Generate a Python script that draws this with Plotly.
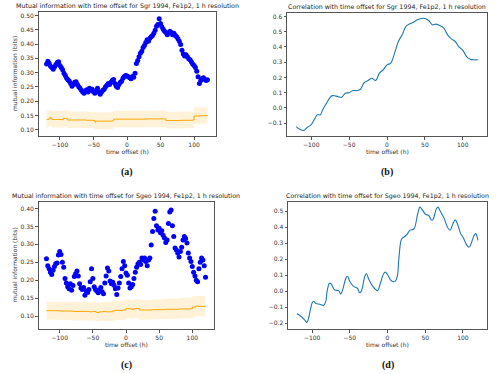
import plotly.graph_objects as go

# hourly offsets (every 2 h) for the mutual information scatter
t_mi = list(range(-120, 121, 2))

mi_sgr = [0.330, 0.340, 0.332, 0.322, 0.318, 0.312, 0.320, 0.328, 0.335, 0.338,
          0.325, 0.318, 0.310, 0.298, 0.290, 0.280, 0.275, 0.270, 0.262, 0.252,
          0.258, 0.266, 0.268, 0.258, 0.250, 0.245, 0.238, 0.232, 0.228, 0.236,
          0.240, 0.232, 0.245, 0.238, 0.242, 0.233, 0.228, 0.236, 0.245, 0.232,
          0.224, 0.232, 0.238, 0.242, 0.250, 0.256, 0.262, 0.258, 0.266, 0.272,
          0.276, 0.262, 0.252, 0.248, 0.258, 0.266, 0.270, 0.280, 0.286, 0.290,
          0.288, 0.285, 0.282, 0.278, 0.286, 0.284, 0.298, 0.332, 0.342, 0.355,
          0.368, 0.375, 0.388, 0.395, 0.405, 0.415, 0.410, 0.420, 0.425, 0.430,
          0.438, 0.448, 0.462, 0.468, 0.488, 0.472, 0.460, 0.452, 0.445, 0.440,
          0.432, 0.438, 0.445, 0.440, 0.432, 0.438, 0.430, 0.425, 0.418, 0.410,
          0.398, 0.378, 0.365, 0.358, 0.362, 0.355, 0.348, 0.345, 0.338, 0.330,
          0.325, 0.318, 0.305, 0.285, 0.262, 0.272, 0.278, 0.282, 0.276, 0.272,
          0.275]

mi_sgeo = [0.260, 0.240, 0.232, 0.222, 0.216, 0.228, 0.238, 0.246, 0.248, 0.270,
           0.280, 0.272, 0.250, 0.236, 0.205, 0.192, 0.182, 0.176, 0.190, 0.172,
           0.185, 0.210, 0.218, 0.226, 0.212, 0.190, 0.178, 0.174, 0.180, 0.158,
           0.170, 0.166, 0.174, 0.196, 0.232, 0.205, 0.182, 0.174, 0.170, 0.165,
           0.172, 0.180, 0.168, 0.162, 0.192, 0.212, 0.234, 0.226, 0.198, 0.190,
           0.194, 0.186, 0.176, 0.160, 0.178, 0.192, 0.210, 0.232, 0.252, 0.240,
           0.220, 0.214, 0.192, 0.178, 0.182, 0.188, 0.205, 0.222, 0.236, 0.245,
           0.250, 0.244, 0.262, 0.256, 0.262, 0.252, 0.240, 0.256, 0.262, 0.298,
           0.336, 0.372, 0.392, 0.352, 0.340, 0.345, 0.332, 0.338, 0.325, 0.318,
           0.305, 0.312, 0.358, 0.390, 0.396, 0.352, 0.322, 0.290, 0.284, 0.276,
           0.265, 0.280, 0.292, 0.312, 0.322, 0.316, 0.304, 0.276, 0.262, 0.252,
           0.238, 0.222, 0.212, 0.200, 0.196, 0.232, 0.250, 0.262, 0.256, 0.240,
           0.208]

# shuffled-baseline mean and band (orange)
t_base_sgr = [-120, -117, -115, -112, -98, -95, -92, -89, -60, -50, -48, -46,
              -44, -22, -20, 0, 30, 56, 58, 80, 98, 100, 110, 120]
base_sgr = [0.136, 0.138, 0.142, 0.136, 0.135, 0.140, 0.139, 0.134, 0.133, 0.132,
            0.127, 0.130, 0.130, 0.131, 0.137, 0.137, 0.138, 0.138, 0.132, 0.133,
            0.134, 0.148, 0.149, 0.151]
base_sgr_hi = [0.166, 0.168, 0.170, 0.166, 0.165, 0.168, 0.167, 0.164, 0.163, 0.162,
               0.160, 0.161, 0.161, 0.162, 0.166, 0.166, 0.167, 0.167, 0.163, 0.164,
               0.165, 0.178, 0.179, 0.180]
base_sgr_lo = [0.108, 0.110, 0.112, 0.108, 0.107, 0.110, 0.109, 0.106, 0.105, 0.104,
               0.100, 0.102, 0.102, 0.103, 0.108, 0.108, 0.109, 0.109, 0.104, 0.105,
               0.106, 0.120, 0.121, 0.122]

t_base_sgeo = [-120, -100, -80, -60, -55, -50, -45, -40, -35, -30, -25, -20, -15,
               -5, 0, 5, 10, 12, 20, 40, 60, 80, 98, 100, 105, 110, 120]
base_sgeo = [0.115, 0.114, 0.113, 0.113, 0.112, 0.113, 0.110, 0.112, 0.113, 0.112,
             0.112, 0.115, 0.116, 0.117, 0.121, 0.120, 0.118, 0.121, 0.117, 0.118,
             0.119, 0.120, 0.121, 0.125, 0.128, 0.127, 0.128]
base_sgeo_hi = [0.140, 0.140, 0.139, 0.139, 0.138, 0.140, 0.137, 0.139, 0.140, 0.139,
                0.140, 0.142, 0.143, 0.144, 0.147, 0.146, 0.145, 0.147, 0.145, 0.147,
                0.149, 0.151, 0.153, 0.155, 0.157, 0.156, 0.157]
base_sgeo_lo = [0.090, 0.089, 0.088, 0.088, 0.087, 0.087, 0.084, 0.086, 0.087, 0.086,
                0.085, 0.088, 0.089, 0.090, 0.094, 0.093, 0.091, 0.094, 0.090, 0.091,
                0.092, 0.093, 0.094, 0.097, 0.100, 0.099, 0.100]

# correlation curves
t_corr_sgr = [-120, -115, -110, -105, -100, -95, -92, -88, -85, -80, -75, -72, -65,
              -60, -55, -50, -45, -40, -35, -30, -25, -20, -15, -10, -5, 0, 5, 10,
              15, 20, 25, 30, 35, 40, 45, 50, 55, 60, 65, 70, 75, 80, 85, 90, 95,
              100, 105, 110, 115, 120]
corr_sgr = [-0.122, -0.140, -0.148, -0.127, -0.110, -0.067, -0.045, -0.045, -0.013,
            0.030, 0.070, 0.081, 0.075, 0.070, 0.097, 0.100, 0.114, 0.114, 0.123,
            0.167, 0.180, 0.195, 0.180, 0.228, 0.250, 0.283, 0.294, 0.360, 0.436,
            0.480, 0.535, 0.552, 0.563, 0.578, 0.587, 0.587, 0.574, 0.545, 0.550,
            0.540, 0.523, 0.480, 0.453, 0.436, 0.400, 0.380, 0.337, 0.320, 0.316,
            0.316]

t_corr_sgeo = [-120, -115, -110, -107, -105, -102, -100, -98, -95, -90, -85, -82,
               -80, -77, -75, -70, -65, -62, -60, -55, -53, -50, -45, -40, -37, -35,
               -30, -28, -25, -20, -15, -13, -10, -5, -3, 0, 5, 10, 13, 15, 18, 20,
               25, 30, 35, 40, 43, 45, 50, 55, 58, 60, 65, 67, 70, 75, 80, 83, 87,
               90, 93, 97, 100, 105, 108, 110, 115, 117, 120]
corr_sgeo = [-0.142, -0.157, -0.180, -0.196, -0.175, -0.110, -0.074, -0.063, -0.078,
             -0.082, -0.089, -0.067, 0.003, 0.050, 0.046, 0.007, 0.003, -0.018, 0.000,
             0.083, 0.093, 0.060, 0.030, 0.018, -0.010, -0.003, 0.093, 0.110, 0.076,
             0.033, 0.007, 0.003, 0.040, 0.110, 0.119, 0.104, 0.065, 0.061, 0.093,
             0.200, 0.318, 0.333, 0.350, 0.382, 0.389, 0.483, 0.526, 0.517, 0.483,
             0.472, 0.446, 0.446, 0.517, 0.526, 0.500, 0.457, 0.397, 0.382, 0.425,
             0.446, 0.419, 0.360, 0.339, 0.290, 0.275, 0.286, 0.350, 0.360, 0.318]

titles = ["Mutual information with time offset for Sgr 1994, Fe1p2, 1 h resolution",
          "Correlation with time offset for Sgr 1994, Fe1p2, 1 h resolution",
          "Mutual information with time offset for Sgeo 1994, Fe1p2, 1 h resolution",
          "Correlation with time offset for Sgeo 1994, Fe1p2, 1 h resolution"]
panel_tags = ["(a)", "(b)", "(c)", "(d)"]

W, H = 500, 374
ORANGE = "#FFA500"
BAND = "rgba(255,165,0,0.15)"
MPL_BLUE = "#1f77b4"

fig = go.Figure()


def band(x, lo, hi, xa, ya):
    fig.add_trace(go.Scatter(x=x, y=lo, mode="lines", line=dict(width=0, shape="hv"),
                             xaxis=xa, yaxis=ya, hoverinfo="skip"))
    fig.add_trace(go.Scatter(x=x, y=hi, mode="lines", line=dict(width=0, shape="hv"),
                             fill="tonexty", fillcolor=BAND, xaxis=xa, yaxis=ya,
                             hoverinfo="skip"))


# (a)
band(t_base_sgr, base_sgr_lo, base_sgr_hi, "x", "y")
fig.add_trace(go.Scatter(x=t_base_sgr, y=base_sgr, mode="lines",
                         line=dict(color=ORANGE, width=1, shape="hv"), xaxis="x", yaxis="y"))
fig.add_trace(go.Scatter(x=t_mi, y=mi_sgr, mode="markers",
                         marker=dict(color="blue", size=5), xaxis="x", yaxis="y"))
# (b)
fig.add_trace(go.Scatter(x=t_corr_sgr, y=corr_sgr, mode="lines",
                         line=dict(color=MPL_BLUE, width=1.1, shape="spline"),
                         xaxis="x2", yaxis="y2"))
# (c)
band(t_base_sgeo, base_sgeo_lo, base_sgeo_hi, "x3", "y3")
fig.add_trace(go.Scatter(x=t_base_sgeo, y=base_sgeo, mode="lines",
                         line=dict(color=ORANGE, width=1, shape="hv"), xaxis="x3", yaxis="y3"))
fig.add_trace(go.Scatter(x=t_mi, y=mi_sgeo, mode="markers",
                         marker=dict(color="blue", size=5), xaxis="x3", yaxis="y3"))
# (d)
fig.add_trace(go.Scatter(x=t_corr_sgeo, y=corr_sgeo, mode="lines",
                         line=dict(color=MPL_BLUE, width=1.1, shape="spline"),
                         xaxis="x4", yaxis="y4"))

# panel boxes in pixels: left, right, top, bottom
boxes = [(38.5, 215.5, 12, 136), (287, 487, 13, 136),
         (38.5, 213.5, 202, 329), (288, 487, 202, 329)]
yranges = [[0.078, 0.512], [-0.184, 0.623], [0.064, 0.418], [-0.237, 0.558]]
ydticks = [0.05, 0.1, 0.05, 0.1]
yfmts = [".2f", ".1f", ".2f", ".1f"]

axis_common = dict(showline=True, linecolor="#555", linewidth=1, mirror=True,
                   ticks="outside", ticklen=2.5, tickcolor="#555", showgrid=False,
                   zeroline=False, tickfont=dict(family="DejaVu Sans", size=6, color="#333"))

layout = {}
for i, (l, r, t, b) in enumerate(boxes):
    sx = "" if i == 0 else str(i + 1)
    layout["xaxis" + sx] = dict(domain=[l / W, r / W], range=[-132, 132],
                                tickvals=[-100, -50, 0, 50, 100],
                                anchor="y" + sx, **axis_common)
    layout["yaxis" + sx] = dict(domain=[1 - b / H, 1 - t / H], range=yranges[i],
                                dtick=ydticks[i], tickformat=yfmts[i],
                                anchor="x" + sx, **axis_common)

annos = []
for i, (l, r, t, b) in enumerate(boxes):
    cx = (l + r) / 2 / W
    annos.append(dict(text=titles[i], x=cx, y=1 - (t - 6) / H, xref="paper", yref="paper",
                      showarrow=False, font=dict(family="DejaVu Sans", size=6.3, color="#222"),
                      xanchor="center", yanchor="middle"))
    annos.append(dict(text="time offset (h)", x=cx, y=1 - (b + 15) / H, xref="paper",
                      yref="paper", showarrow=False,
                      font=dict(family="DejaVu Sans", size=6, color="#333"),
                      xanchor="center", yanchor="middle"))
    annos.append(dict(text="<b>" + panel_tags[i] + "</b>", x=cx, y=1 - (b + 36) / H,
                      xref="paper", yref="paper", showarrow=False,
                      font=dict(family="Liberation Serif", size=10, color="#111"),
                      xanchor="center", yanchor="middle"))
for i in (0, 2):
    l, r, t, b = boxes[i]
    annos.append(dict(text="mutual information (bits)", x=14 / W, y=1 - (t + b) / 2 / H,
                      xref="paper", yref="paper", showarrow=False, textangle=-90,
                      font=dict(family="DejaVu Sans", size=6, color="#333"),
                      xanchor="center", yanchor="middle"))

fig.update_layout(width=W, height=H, margin=dict(l=0, r=0, t=0, b=0),
                  paper_bgcolor="white", plot_bgcolor="white", showlegend=False,
                  annotations=annos, **layout)

# drop the browser's default 8px body margin so the figure sits at the page corner
fig.write_html("out.html", config={"displayModeBar": False},
               post_script="document.body.style.margin='0';")
